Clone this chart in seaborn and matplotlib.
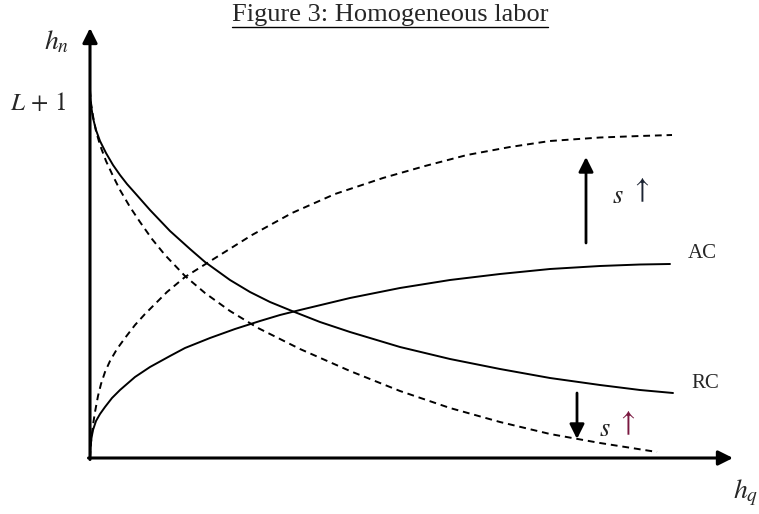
import matplotlib
matplotlib.use("Agg")
import matplotlib.pyplot as plt
import seaborn as sns
import pandas as pd
from matplotlib.lines import Line2D

# Points (h_q, h_n), arbitrary units
rc_x = [0, 0.02, 0.06, 0.12, 0.20, 0.32, 0.46, 0.60, 0.74, 0.90, 1.20, 1.60, 2.00, 2.30,
        2.80, 3.20, 3.60, 4.04, 4.60, 5.20, 6.20, 7.20, 8.20, 9.20, 10.20, 11.00, 11.66]
rc_y = [7.30, 7.06, 6.80, 6.56, 6.34, 6.10, 5.86, 5.66, 5.48, 5.30, 4.96, 4.54, 4.18, 3.92,
        3.56, 3.32, 3.12, 2.94, 2.72, 2.52, 2.22, 1.98, 1.78, 1.60, 1.46, 1.36, 1.30]

# RC after s goes up (dashed)
rc_s_x = [0, 0.02, 0.06, 0.12, 0.20, 0.32, 0.46, 0.60, 0.80, 1.00, 1.24, 1.50, 1.90, 2.30,
          2.80, 3.36, 4.20, 5.20, 6.20, 7.20, 8.20, 9.20, 10.20, 11.34]
rc_s_y = [7.36, 7.10, 6.84, 6.54, 6.26, 5.94, 5.64, 5.36, 5.02, 4.72, 4.38, 4.06, 3.64, 3.30,
          2.94, 2.60, 2.18, 1.74, 1.34, 1.00, 0.72, 0.48, 0.30, 0.12]

ac_x = [0, 0.01, 0.03, 0.06, 0.12, 0.20, 0.30, 0.44, 0.60, 0.90, 1.20, 1.60, 1.90, 2.40,
        2.90, 3.40, 3.80, 4.20, 5.20, 6.20, 7.20, 8.20, 9.20, 10.20, 11.00, 11.60]
ac_y = [0, 0.22, 0.40, 0.56, 0.74, 0.88, 1.02, 1.20, 1.36, 1.62, 1.82, 2.04, 2.20, 2.40,
        2.58, 2.74, 2.86, 2.96, 3.20, 3.40, 3.56, 3.68, 3.78, 3.84, 3.87, 3.88]

# AC after s goes up (dashed)
ac_s_x = [0, 0.01, 0.03, 0.06, 0.10, 0.16, 0.22, 0.30, 0.40, 0.54, 0.70, 0.90, 1.10, 1.24,
          1.54, 1.90, 2.44, 3.24, 4.04, 4.90, 5.86, 6.70, 7.54, 8.40, 9.20, 10.20, 11.00, 11.64]
ac_s_y = [0, 0.20, 0.42, 0.66, 0.92, 1.24, 1.48, 1.72, 1.94, 2.18, 2.40, 2.66, 2.88, 3.02,
          3.32, 3.62, 3.96, 4.46, 4.90, 5.28, 5.60, 5.84, 6.06, 6.22, 6.34, 6.41, 6.44, 6.46]

curves = pd.concat([
    pd.DataFrame({'h_q': rc_x, 'h_n': rc_y, 'curve': 'RC'}),
    pd.DataFrame({'h_q': rc_s_x, 'h_n': rc_s_y, 'curve': 'RC, s up'}),
    pd.DataFrame({'h_q': ac_x, 'h_n': ac_y, 'curve': 'AC'}),
    pd.DataFrame({'h_q': ac_s_x, 'h_n': ac_s_y, 'curve': 'AC, s up'}),
])

sns.set_theme(style="white")
plt.rcParams['font.family'] = ['Liberation Serif', 'DejaVu Serif']
plt.rcParams['mathtext.fontset'] = 'stix'

fig = plt.figure(figsize=(7.59, 5.14), dpi=100)
ax = fig.add_axes([0, 0, 1, 1])

for name, grp in curves.groupby('curve', sort=False):
    sns.lineplot(data=grp, x='h_q', y='h_n', sort=False, estimator=None,
                 color='black', lw=1.4, ax=ax)
    if 's up' in name:
        ax.lines[-1].set_dashes((3.5, 2.5))

ax.set_xlim(-1.8, 13.38)
ax.set_ylim(-1.12, 9.16)
ax.axis('off')

# axes with arrow heads
axis_arrow = dict(arrowstyle='-|>', lw=2.2, color='black', mutation_scale=22,
                  shrinkA=0, shrinkB=0)
ax.annotate('', xy=(0, 8.6), xytext=(0, -0.03), arrowprops=axis_arrow)
ax.annotate('', xy=(12.86, 0), xytext=(-0.03, 0), arrowprops=axis_arrow)

# shift arrows
shift_arrow = dict(arrowstyle='-|>', lw=2.0, color='black', mutation_scale=22,
                   shrinkA=0, shrinkB=0)
ax.annotate('', xy=(9.92, 6.02), xytext=(9.92, 4.30), arrowprops=shift_arrow)
ax.annotate('', xy=(9.74, 0.38), xytext=(9.74, 1.30), arrowprops=shift_arrow)

ax.text(10.56, 5.22, '$s$', fontsize=19, ha='center', va='center')
ax.text(11.0, 5.36, r'$\uparrow$', fontsize=21, ha='center', va='center', color='#1c2433')
ax.text(10.30, 0.56, '$s$', fontsize=19, ha='center', va='center')
ax.text(10.72, 0.70, r'$\uparrow$', fontsize=21, ha='center', va='center', color='#7a1840')

ax.text(12.24, 4.10, 'AC', fontsize=15, ha='center', va='center')
ax.text(12.30, 1.50, 'RC', fontsize=15, ha='center', va='center')

ax.text(-0.66, 8.32, '$h_n$', fontsize=20, ha='center', va='center')
ax.text(-1.04, 7.10, r'$L\,+\,1$', fontsize=18, ha='center', va='center')
ax.text(13.12, -0.70, '$h_q$', fontsize=20, ha='center', va='center')

title = ax.text(6.0, 8.86, 'Figure 3: Homogeneous labor', fontsize=19,
                ha='center', va='center')

# underline the title
fig.canvas.draw()
bb = title.get_window_extent()
W, H = fig.bbox.width, fig.bbox.height
fig.add_artist(Line2D([bb.x0 / W, bb.x1 / W], [(bb.y0 - 1) / H] * 2,
                      transform=fig.transFigure, color='black', lw=1.0))

fig.savefig('out.png', dpi=100)
